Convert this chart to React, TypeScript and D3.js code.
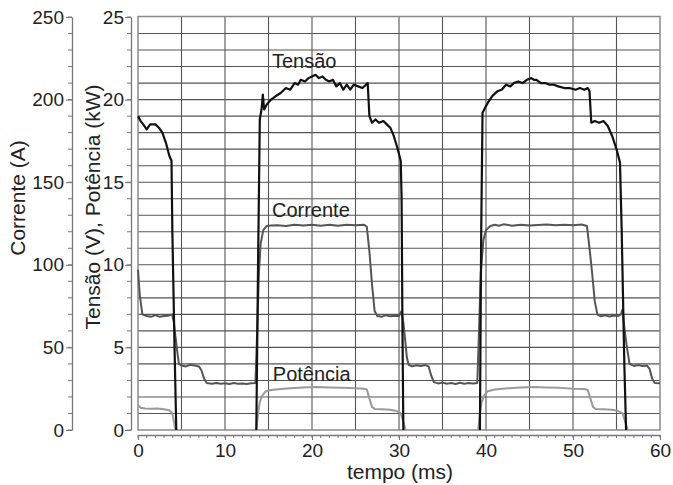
import { useEffect, useRef } from "react";
import * as d3 from "d3";

// tempo (ms) x valor — cada série em trechos separados
const tensao: [number, number][][] = [
  [[0, 19.0], [0.3, 18.7], [0.6, 18.5], [1.0, 18.2], [1.4, 18.5], [2.0, 18.5], [2.4, 18.3], [2.8, 18.0], [3.2, 17.4], [3.6, 16.6], [3.85, 16.3], [3.95, 12], [4.2, 5], [4.4, 0]],
  [[13.6, 0], [13.8, 10], [14.0, 18.8], [14.2, 19.4], [14.35, 20.3], [14.5, 19.4], [14.8, 19.7], [15.3, 20.0], [15.8, 20.2], [16.4, 20.4], [17.0, 20.7], [17.5, 20.6], [18.0, 21.0], [18.4, 20.9], [18.7, 21.2], [19.2, 21.1], [19.6, 21.3], [20.0, 21.4], [20.4, 21.5], [20.8, 21.3], [21.2, 21.4], [21.6, 21.2], [22.0, 21.1], [22.4, 21.2], [22.8, 20.8], [23.2, 21.0], [23.6, 20.6], [24.0, 20.9], [24.4, 20.6], [24.8, 20.9], [25.3, 20.8], [25.8, 20.7], [26.2, 20.9], [26.4, 21.0], [26.6, 19.0], [26.9, 18.6], [27.3, 18.8], [27.7, 18.6], [28.2, 18.7], [28.6, 18.5], [29.0, 18.3], [29.4, 17.8], [29.8, 17.1], [30.2, 16.3], [30.3, 14], [30.4, 6], [30.5, 0]],
  [[39.3, 0], [39.45, 12], [39.6, 19.2], [39.9, 19.5], [40.2, 19.8], [40.7, 20.2], [41.3, 20.5], [41.8, 20.6], [42.3, 20.9], [42.8, 20.8], [43.2, 21.0], [43.7, 21.1], [44.2, 21.0], [44.7, 21.2], [45.2, 21.3], [45.5, 21.2], [45.8, 21.2], [46.3, 21.0], [46.8, 21.0], [47.3, 20.9], [47.8, 20.9], [48.3, 20.8], [49.0, 20.7], [49.6, 20.7], [50.3, 20.6], [50.8, 20.7], [51.3, 20.6], [51.7, 20.7], [51.9, 20.5], [52.1, 18.6], [52.5, 18.7], [53.0, 18.6], [53.5, 18.7], [54.0, 18.4], [54.5, 17.8], [55.0, 17.0], [55.4, 16.2], [55.6, 12], [55.9, 4], [56.1, 0]],
];

const corrente: [number, number][][] = [
  [[0, 97], [0.2, 82], [0.5, 70], [1.0, 69], [1.5, 68.5], [2.0, 69.5], [2.5, 68.5], [3.0, 69], [3.5, 69.2], [3.9, 70], [4.1, 66], [4.3, 57], [4.5, 48], [4.7, 40], [5.0, 39], [5.5, 38.5], [6.0, 39.5], [6.5, 39], [7.0, 38.5], [7.3, 36], [7.6, 31], [7.9, 28.5], [8.5, 28], [9.0, 28.5], [9.5, 28], [10, 28.3], [10.5, 27.8], [11, 28.5], [11.5, 28], [12, 28.2], [12.5, 27.8], [13, 28.3], [13.5, 28.5], [13.7, 60], [13.9, 95], [14.1, 113], [14.4, 121], [14.8, 123.5], [15.3, 123.8], [16, 124], [17, 123.5], [18, 124.2], [19, 123.8], [20, 124.3], [21, 123.6], [22, 124.2], [23, 123.7], [24, 124.3], [25, 123.9], [26, 124.2], [26.3, 123], [26.6, 108], [26.9, 88], [27.2, 72], [27.5, 69], [28, 68.5], [28.5, 69.5], [29, 68.8], [29.5, 69.2], [30, 69], [30.3, 72], [30.5, 65], [30.7, 55], [30.9, 44], [31.1, 39.5], [31.5, 38.5], [32, 39.2], [32.5, 38.8], [33, 39.3], [33.4, 38.5], [33.7, 33], [34.0, 29], [34.5, 28.2], [35, 28.7], [35.5, 28], [36, 28.5], [36.5, 27.9], [37, 28.6], [37.5, 28], [38, 28.4], [38.5, 28.1], [39.0, 28.5], [39.2, 60], [39.4, 95], [39.7, 115], [40.0, 121], [40.5, 123.5], [41, 124.2], [41.5, 123.6], [42, 124.5], [43, 123.7], [44, 124.3], [45, 123.8], [46, 124.1], [47, 124.4], [48, 123.9], [49, 124.3], [50, 124], [51, 124.4], [51.6, 123.5], [51.9, 110], [52.2, 95], [52.5, 78], [52.8, 70], [53.2, 68.8], [53.7, 69.4], [54.2, 68.7], [54.7, 69.3], [55.2, 69], [55.5, 70], [55.7, 73], [55.9, 62], [56.2, 50], [56.5, 40], [57, 38.8], [57.5, 39.3], [58, 38.7], [58.5, 39], [58.8, 37], [59.1, 31], [59.4, 28.5], [60, 28.3]],
];

const potencia: [number, number][][] = [
  [[0, 1.5], [0.3, 1.35], [0.8, 1.3], [1.5, 1.28], [2.2, 1.3], [3.0, 1.25], [3.6, 1.2], [3.9, 1.05], [4.1, 0.6], [4.3, 0]],
  [[13.6, 0], [13.8, 1.0], [14.0, 1.7], [14.3, 2.1], [14.7, 2.35], [15.3, 2.42], [16.4, 2.48], [17.5, 2.52], [19, 2.57], [20.5, 2.6], [22, 2.58], [23.5, 2.55], [25, 2.52], [26.0, 2.5], [26.3, 2.45], [26.6, 1.9], [26.9, 1.4], [27.2, 1.27], [28, 1.25], [29, 1.22], [29.7, 1.15], [30.2, 1.0], [30.5, 0.5], [30.75, 0]],
  [[39.1, 0], [39.3, 1.0], [39.5, 1.7], [39.8, 2.1], [40.2, 2.35], [41, 2.45], [42.5, 2.52], [44, 2.57], [45.5, 2.6], [47, 2.58], [48.5, 2.55], [50, 2.5], [51.3, 2.48], [51.7, 2.42], [52.0, 1.9], [52.3, 1.4], [52.6, 1.27], [53.5, 1.25], [54.5, 1.22], [55.2, 1.15], [55.7, 1.0], [56.0, 0.5], [56.3, 0]],
];

const xTicks = [0, 10, 20, 30, 40, 50, 60];
const correnteTicks = [0, 50, 100, 150, 200, 250];
const tensaoTicks = [0, 5, 10, 15, 20, 25];

// rótulos das curvas: [texto, tempo, valor na escala da direita]
const seriesLabels: [string, number, number][] = [
  ["Tensão", 15.4, 21.9],
  ["Corrente", 15.4, 12.9],
  ["Potência", 15.5, 2.95],
];

const App = () => {
  const svgRef = useRef<SVGSVGElement>(null);
  const width = 673;
  const height = 485;
  const plot = { left: 138, right: 660, top: 17, bottom: 430 };
  const font = "'Liberation Sans', Arial, sans-serif";

  useEffect(() => {
    const svg = d3.select(svgRef.current);
    svg.selectAll("*").remove();

    const x = d3.scaleLinear().domain([0, 60]).range([plot.left, plot.right]);
    const yV = d3.scaleLinear().domain([0, 25]).range([plot.bottom, plot.top]);
    const yA = d3.scaleLinear().domain([0, 250]).range([plot.bottom, plot.top]);

    // grade
    const grid = svg.append("g").attr("stroke", "#555").attr("stroke-width", 1.1);
    grid
      .selectAll("line.h")
      .data(d3.range(1, 25))
      .enter()
      .append("line")
      .attr("x1", plot.left)
      .attr("x2", plot.right)
      .attr("y1", (d) => yV(d))
      .attr("y2", (d) => yV(d));
    grid
      .selectAll("line.v")
      .data(d3.range(5, 60, 5))
      .enter()
      .append("line")
      .attr("y1", plot.top)
      .attr("y2", plot.bottom)
      .attr("x1", (d) => x(d))
      .attr("x2", (d) => x(d));
    svg
      .append("rect")
      .attr("x", plot.left)
      .attr("y", plot.top - 0.5)
      .attr("width", plot.right - plot.left)
      .attr("height", plot.bottom - plot.top + 0.5)
      .attr("fill", "none")
      .attr("stroke", "#8a8a8a")
      .attr("stroke-width", 1.5);

    // eixos
    const styleAxis = (g: any, size: number) => {
      g.select(".domain").attr("stroke", "#777").attr("stroke-width", 1.3);
      g.selectAll(".tick line").attr("stroke", "#777");
      g.selectAll("text").attr("font-family", font).attr("font-size", size).attr("fill", "#222");
    };
    const minor = (g: any, scale: any, values: number[], pos: (v: number) => string, attrs: any) => {
      g.selectAll("line.minor")
        .data(values)
        .enter()
        .append("line")
        .attr("class", "minor")
        .attr("stroke", "#777")
        .attr("transform", pos)
        .attr("x2", attrs.x2 || 0)
        .attr("y2", attrs.y2 || 0);
    };

    const gA = svg.append("g").attr("transform", "translate(72,0)");
    gA.call(d3.axisLeft(yA).tickValues(correnteTicks).tickSize(6).tickSizeOuter(0).tickPadding(2) as any);
    minor(gA, yA, d3.range(0, 251, 10), (v) => `translate(0,${yA(v)})`, { x2: -4 });
    styleAxis(gA, 19);

    const gV = svg.append("g").attr("transform", "translate(131,0)");
    gV.call(d3.axisLeft(yV).tickValues(tensaoTicks).tickSize(6).tickSizeOuter(0).tickPadding(1) as any);
    minor(gV, yV, d3.range(0, 26, 1), (v) => `translate(0,${yV(v)})`, { x2: -4 });
    styleAxis(gV, 19);

    const gX = svg.append("g").attr("transform", "translate(0,435)");
    gX.call(d3.axisBottom(x).tickValues(xTicks).tickSize(5).tickSizeOuter(0).tickPadding(4) as any);
    minor(gX, x, d3.range(0, 61, 1), (v) => `translate(${x(v)},0)`, { y2: 3 });
    styleAxis(gX, 19);

    // títulos
    svg
      .append("text")
      .attr("transform", "translate(25,198) rotate(-90)")
      .attr("text-anchor", "middle")
      .attr("font-family", font)
      .attr("font-size", 21)
      .attr("fill", "#222")
      .text("Corrente (A)");
    svg
      .append("text")
      .attr("transform", "translate(100,207) rotate(-90)")
      .attr("text-anchor", "middle")
      .attr("font-family", font)
      .attr("font-size", 21)
      .attr("fill", "#222")
      .text("Tensão (V), Potência (kW)");
    svg
      .append("text")
      .attr("x", 400)
      .attr("y", 479)
      .attr("text-anchor", "middle")
      .attr("font-family", font)
      .attr("font-size", 21)
      .attr("fill", "#222")
      .text("tempo (ms)");

    // curvas
    const lineV = d3
      .line<[number, number]>()
      .x((d) => x(d[0]))
      .y((d) => yV(d[1]));
    const lineA = d3
      .line<[number, number]>()
      .x((d) => x(d[0]))
      .y((d) => yA(d[1]));

    const drawSeries = (segs: [number, number][][], gen: any, color: string, w: number) => {
      svg
        .append("g")
        .selectAll("path")
        .data(segs)
        .enter()
        .append("path")
        .attr("d", (d) => gen(d))
        .attr("fill", "none")
        .attr("stroke", color)
        .attr("stroke-width", w)
        .attr("stroke-linejoin", "round");
    };
    drawSeries(potencia, lineV, "#9a9a9a", 2);
    drawSeries(corrente, lineA, "#555", 2);
    drawSeries(tensao, lineV, "#111", 2.2);

    svg
      .append("g")
      .selectAll("text")
      .data(seriesLabels)
      .enter()
      .append("text")
      .attr("x", (d) => x(d[1]))
      .attr("y", (d) => yV(d[2]))
      .attr("font-family", font)
      .attr("font-size", 20)
      .attr("fill", "#222")
      .text((d) => d[0]);
  }, []);

  return (
    <svg
      ref={svgRef}
      width={width}
      height={height}
      style={{ position: "absolute", left: 0, top: 0, background: "#fff" }}
    ></svg>
  );
};

export default App;
